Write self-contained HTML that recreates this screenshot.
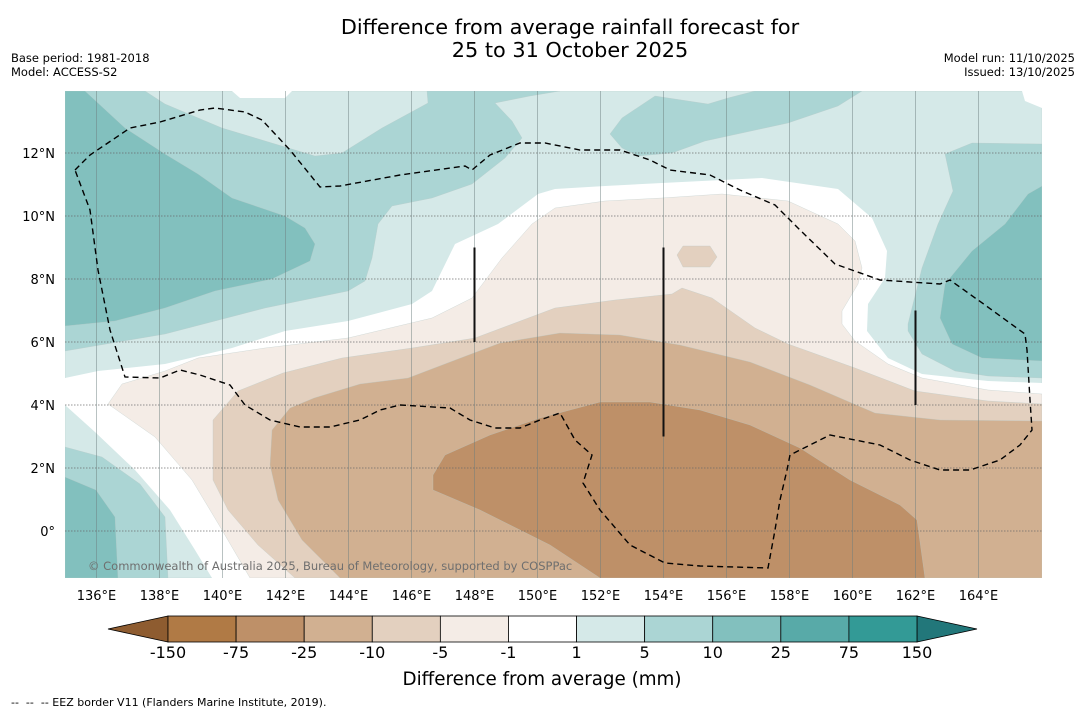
<!DOCTYPE html>
<html><head><meta charset="utf-8">
<style>
html,body{margin:0;padding:0;background:#fff;}
body{width:1085px;height:713px;position:relative;overflow:hidden;font-family:"DejaVu Sans","Liberation Sans",sans-serif;}
svg{position:absolute;left:0;top:0;font-family:"DejaVu Sans","Liberation Sans",sans-serif;}
</style></head>
<body>
<svg id="chart" width="1085" height="713" viewBox="0 0 1085 713" xmlns="http://www.w3.org/2000/svg">
<defs><clipPath id="mapclip"><rect x="65" y="91" width="977" height="487"/></clipPath></defs>
<text x="570" y="34" font-size="20.8" text-anchor="middle" fill="#000">Difference from average rainfall forecast for</text>
<text x="570" y="57" font-size="20.8" text-anchor="middle" fill="#000">25 to 31 October 2025</text>
<text x="11" y="62" font-size="11.5">Base period: 1981-2018</text>
<text x="11" y="76" font-size="11.5">Model: ACCESS-S2</text>
<text x="1075" y="62" font-size="11.5" text-anchor="end">Model run: 11/10/2025</text>
<text x="1075" y="76" font-size="11.5" text-anchor="end">Issued: 13/10/2025</text>
<g id="map" clip-path="url(#mapclip)"></g>
<g id="axes"></g>
<g id="cbar"></g>
<text x="542" y="685" font-size="18.3" text-anchor="middle">Difference from average (mm)</text>
<text x="11" y="706" font-size="11" xml:space="preserve">--  --  -- EEZ border V11 (Flanders Marine Institute, 2019).</text>
</svg>
<script>
// ---- chart data ----
const levelLabels = ["-150","-75","-25","-10","-5","-1","1","5","10","25","75","150"];
const levelColors = ["#b07a45","#be9068","#d1b091","#e3d0bf","#f4ece6","#ffffff","#d5e9e8","#abd5d4","#82c0be","#58aaa8","#339a96"];
const extColors = ["#8e5c30","#22777a"];
const lonTicks = [136,138,140,142,144,146,148,150,152,154,156,158,160,162,164];
const latTicks = [0,2,4,6,8,10,12];

// ---- axes ----
const lonX = lon => 65 + (lon - 135) * 31.5;
const latY = lat => 531 - lat * 31.5;
const NS = "http://www.w3.org/2000/svg";
function mk(tag, attrs, parent){const e=document.createElementNS(NS,tag);for(const k in attrs)e.setAttribute(k,attrs[k]);parent.appendChild(e);return e;}

const C = {
 lt:"#d5e9e8", t2:"#abd5d4", t3:"#82c0be", w:"#ffffff", b1:"#f4ece6", b2:"#e3d0bf", b3:"#d1b091", b4:"#be9068"
};
const regions = [
 ["lt", [[65,91],[1042,91],[1042,578],[65,578]]],
 ["w", [[65,378],[98,371],[165,364],[232,348],[285,331],[348,321],[412,304],[432,291],[455,244],[498,224],[538,194],[555,189],[605,186],[662,183],[762,178],[838,189],[872,218],[887,251],[885,278],[868,304],[867,331],[888,358],[922,374],[988,381],[1042,383],[1042,578],[212,578],[195,550],[170,510],[135,470],[95,432],[65,405]]],
 ["b1", [[108,404],[122,384],[165,371],[198,358],[265,348],[348,338],[432,318],[472,298],[502,258],[532,224],[555,208],[605,201],[662,198],[722,194],[788,201],[838,224],[855,241],[862,268],[858,284],[842,311],[842,324],[855,341],[888,364],[922,378],[988,390],[1042,394],[1042,578],[250,578],[222,530],[192,480],[155,437]]],
 ["b2", [[213,420],[238,391],[283,373],[342,358],[412,348],[475,338],[555,308],[615,300],[672,294],[682,288],[712,298],[755,328],[788,344],[855,368],[915,391],[988,401],[1042,404],[1042,578],[295,578],[258,545],[228,510],[213,480]]],
 ["b3", [[272,430],[290,408],[314,398],[360,384],[408,378],[450,362],[500,343],[560,333],[620,335],[680,345],[750,362],[810,385],[875,413],[940,420],[1042,421],[1042,578],[340,578],[302,540],[278,500],[270,465]]],
 ["b4", [[433,475],[445,455],[490,435],[540,418],[600,402],[650,402],[700,410],[750,425],[800,448],[850,480],[900,505],[917,520],[925,578],[600,578],[550,545],[480,510],[433,490]]],
 ["b2", [[677,255],[683,246],[710,246],[717,257],[710,267],[683,267]]],
 ["t2", [[65,91],[145,91],[165,104],[222,128],[315,156],[342,153],[382,128],[428,103],[427,91],[560,91],[530,96],[495,103],[512,121],[522,138],[505,158],[472,184],[432,198],[392,206],[378,224],[372,258],[365,281],[348,291],[265,308],[165,334],[65,351]]],
 ["t2", [[610,134],[622,118],[655,96],[708,104],[728,98],[755,91],[862,91],[838,106],[788,123],[705,141],[672,153],[638,156],[622,148]]],
 ["t2", [[945,154],[972,143],[1042,144],[1042,378],[988,376],[955,371],[922,354],[908,331],[908,324],[922,268],[938,224],[953,191]]],
 ["t3", [[65,91],[85,91],[125,128],[165,154],[198,174],[232,198],[285,216],[305,228],[315,244],[310,261],[272,279],[215,291],[165,308],[115,321],[65,326]]],
 ["t3", [[1042,186],[1028,194],[1005,224],[972,251],[945,284],[940,318],[952,344],[982,358],[1042,361]]],
 ["t2", [[65,447],[102,457],[140,484],[165,517],[168,578],[65,578]]],
 ["t3", [[65,477],[96,490],[115,517],[118,578],[65,578]]],
 ["w", [[232,91],[292,91],[285,98],[240,98]]],
 ["w", [[1022,91],[1042,91],[1042,108],[1025,101]]]
];
const eez = [[75,170],[90,155],[130,128],[160,122],[200,110],[215,108],[245,112],[262,120],[290,150],[320,187],[340,186],[400,175],[465,166],[472,170],[490,155],[520,143],[545,143],[580,150],[620,150],[650,160],[670,170],[710,175],[740,190],[775,205],[800,230],[835,264],[880,280],[925,283],[940,284],[950,280],[985,305],[1025,334],[1027,350],[1030,400],[1032,430],[1020,445],[1000,460],[970,470],[940,470],[910,460],[880,445],[865,442],[830,435],[810,445],[790,455],[787,470],[780,500],[775,530],[768,568],[700,566],[665,563],[630,545],[600,510],[583,483],[592,455],[575,440],[560,413],[540,420],[520,428],[495,428],[470,420],[450,408],[400,405],[380,410],[360,420],[330,427],[300,427],[270,420],[245,405],[230,385],[200,375],[180,370],[160,378],[125,377],[110,330],[98,270],[90,210],[75,170]];

const map = document.getElementById('map');
regions.forEach(([c, pts]) => {
  const p = mk('polygon', {points: pts.map(q=>q.join(',')).join(' '), fill: C[c], stroke: c==='w'?'none':'#b8c8c6', 'stroke-width': 0.5, 'stroke-opacity':0.6}, map);
  
  
});
lonTicks.forEach(lon => {
  const l = mk('line', {x1: lonX(lon), x2: lonX(lon), y1: 91, y2: 578, stroke: '#6d7f7e', 'stroke-width': 0.8, 'stroke-opacity': 0.6}, map);
  
  
});
latTicks.forEach(lat => {
  const l = mk('line', {x1: 65, x2: 1042, y1: latY(lat), y2: latY(lat), stroke: '#666', 'stroke-width': 1, 'stroke-dasharray': '1.5,1.5', 'stroke-opacity': 0.7}, map);
  
  
});
const ez = mk('polyline', {points: eez.map(q=>q.join(',')).join(' '), fill: 'none', stroke: '#000', 'stroke-width': 1.4, 'stroke-dasharray': '6,4'}, map);


[[148,9,6],[154,9,3],[162,7,4]].forEach(([lon,a,b]) => {
  const l = mk('line', {x1: lonX(lon), x2: lonX(lon), y1: latY(a), y2: latY(b), stroke: '#111', 'stroke-width': 2}, map);
  
  
});
const cp = mk('text', {x: 88, y: 570, 'font-size': 11.5, fill: '#6f6f6f'}, map);
cp.textContent = "© Commonwealth of Australia 2025, Bureau of Meteorology, supported by COSPPac";



const axes = document.getElementById('axes');
lonTicks.forEach(lon => {
  const t = mk('text', {x: lonX(lon), y: 600, 'font-size': 13, 'text-anchor': 'middle'}, axes);
  t.textContent = lon + '°E';
  
  
});
latTicks.forEach(lat => {
  const t = mk('text', {x: 55, y: latY(lat) + 5, 'font-size': 13, 'text-anchor': 'end'}, axes);
  t.textContent = lat === 0 ? '0°' : lat + '°N';
  
  
});

const cb = document.getElementById('cbar');
const cbX0 = 168, cbX1 = 917, cbY = 616, cbH = 26;
const segW = (cbX1 - cbX0) / levelColors.length;
const lt = mk('polygon', {points: `${cbX0},${cbY} ${cbX0},${cbY+cbH} 108,${cbY+cbH/2}`, fill: extColors[0], stroke: '#000', 'stroke-width': 0.8}, cb);


const rt = mk('polygon', {points: `${cbX1},${cbY} ${cbX1},${cbY+cbH} 977,${cbY+cbH/2}`, fill: extColors[1], stroke: '#000', 'stroke-width': 0.8}, cb);


levelColors.forEach((c, i) => {
  const r = mk('rect', {x: cbX0 + i*segW, y: cbY, width: segW, height: cbH, fill: c, stroke: '#000', 'stroke-width': 0.8}, cb);
  
  
});
levelLabels.forEach((s, i) => {
  const t = mk('text', {x: cbX0 + i*segW, y: 658, 'font-size': 16, 'text-anchor': 'middle'}, cb);
  t.textContent = s;
  
  
});
</script>
</body></html>
